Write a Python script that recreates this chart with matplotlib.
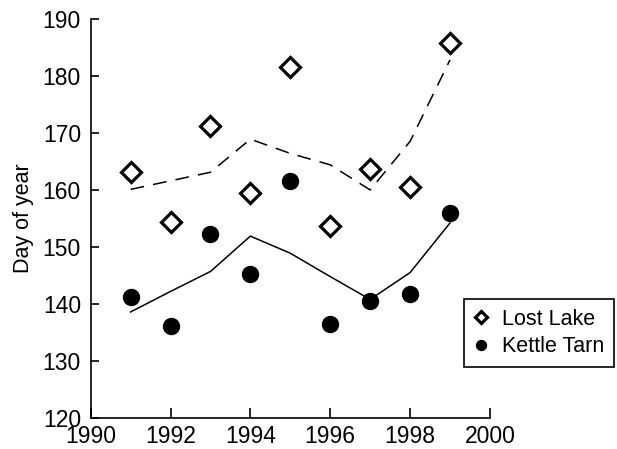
import matplotlib.pyplot as plt

plt.rcParams['font.family'] = ['Liberation Sans', 'DejaVu Sans']

years = [1991, 1992, 1993, 1994, 1995, 1996, 1997, 1998, 1999]
lost_lake = [163.1, 154.4, 171.2, 159.4, 181.5, 153.7, 163.7, 160.5, 185.8]
kettle_tarn = [141.2, 136.2, 152.3, 145.3, 161.5, 136.5, 140.6, 141.8, 155.9]
lost_trend = [160.1, 161.6, 163.1, 168.9, 166.4, 164.4, 160.0, 168.5, 182.8]
kettle_trend = [138.6, 142.2, 145.7, 151.9, 148.9, 144.8, 140.8, 145.5, 154.2]

x_ticks = [1990, 1992, 1994, 1996, 1998, 2000]
y_ticks = [120, 130, 140, 150, 160, 170, 180, 190]

fig = plt.figure(figsize=(6.17, 4.49), dpi=100)
ax = fig.add_axes([0.147, 0.069, 0.647, 0.889])

ax.plot(years, lost_trend, color='black', lw=1.1, dashes=(9, 6))
ax.plot(years, kettle_trend, color='black', lw=1.1)
ax.plot(years, lost_lake, ls='none', marker='D', ms=10.5, mfc='white',
        mec='black', mew=2.3, label='Lost Lake')
ax.plot(years, kettle_tarn, ls='none', marker='o', ms=11.5, mfc='black',
        mec='black', label='Kettle Tarn')

ax.set_xlim(1990, 2000)
ax.set_ylim(120, 190)
ax.set_xticks(x_ticks)
ax.set_yticks(y_ticks)
ax.tick_params(axis='both', direction='in', labelsize=16.5, width=1.2)
ax.tick_params(axis='x', length=7, pad=5)
ax.tick_params(axis='y', length=6, pad=7)
ax.set_ylabel('Day of year', fontsize=15.5, labelpad=6)

for s in ['top', 'right']:
    ax.spines[s].set_visible(False)
for s in ['left', 'bottom']:
    ax.spines[s].set_linewidth(1.2)

leg = fig.legend(loc='upper left', bbox_to_anchor=(0.752, 0.334), fontsize=15.5,
                 markerscale=0.62, handlelength=0.7, handletextpad=0.6,
                 borderpad=0.45, labelspacing=0.3, borderaxespad=0,
                 fancybox=False, framealpha=1, edgecolor='black')
leg.get_frame().set_linewidth(1.2)

plt.savefig('out.png', dpi=100)
